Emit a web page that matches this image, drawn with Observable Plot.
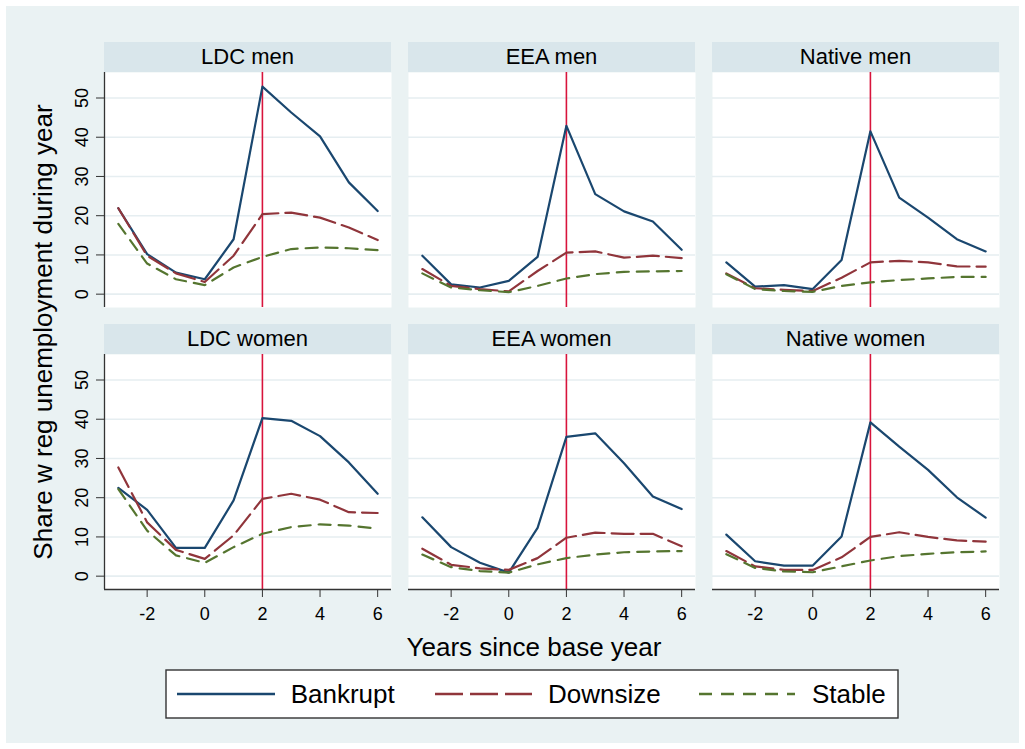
<!DOCTYPE html>
<html><head><meta charset="utf-8">
<script src="https://cdn.jsdelivr.net/npm/d3@7"></script>
<script src="https://cdn.jsdelivr.net/npm/@observablehq/plot@0.6"></script>
<style>
body{margin:0;background:#fff;font-family:"Liberation Sans",Arial,sans-serif;}
#root{position:relative;width:1025px;height:749px;overflow:hidden;background:#fff;}
#bg{position:absolute;left:6px;top:6px;width:1013px;height:737px;background:#EAF2F3;}
.strip{position:absolute;height:30px;width:287px;background:#D9E6EB;font-size:22px;line-height:30px;text-align:center;color:#000;white-space:nowrap;}
.panel{position:absolute;}
.title{position:absolute;font-size:26px;line-height:30px;height:30px;text-align:center;color:#000;white-space:nowrap;}
</style></head><body><div id="root"><div id="bg"></div></div>
<script>
// ---- data ----
const years = [-3, -2, -1, 0, 1, 2, 3, 4, 5, 6];
const panels = ["LDC men", "EEA men", "Native men", "LDC women", "EEA women", "Native women"];
const seriesNames = ["Bankrupt", "Downsize", "Stable"];
const bankrupt = [
  [21.9, 10.2, 5.5, 3.8, 14.0, 52.9, 46.3, 40.2, 28.5, 21.2],
  [9.8, 2.5, 1.7, 3.4, 9.5, 42.9, 25.5, 21.1, 18.5, 11.3],
  [8.1, 1.9, 2.3, 1.3, 8.7, 41.5, 24.6, 19.5, 14.0, 10.9],
  [22.5, 16.9, 7.2, 7.2, 19.3, 40.3, 39.6, 35.7, 29.0, 21.0],
  [15.0, 7.4, 3.4, 0.9, 12.3, 35.5, 36.4, 28.8, 20.3, 17.1],
  [10.6, 3.8, 2.7, 2.7, 10.1, 39.2, 33.0, 27.1, 20.1, 14.9]
];
const downsize = [
  [21.9, 9.8, 5.3, 3.1, 9.8, 20.4, 20.8, 19.5, 17.0, 13.8],
  [6.4, 2.1, 1.3, 0.7, 5.9, 10.6, 10.9, 9.3, 9.8, 9.2],
  [5.3, 1.5, 1.1, 0.8, 4.2, 8.1, 8.5, 8.1, 7.1, 7.0],
  [27.7, 13.7, 6.7, 4.4, 10.4, 19.7, 21.0, 19.5, 16.3, 16.1],
  [7.0, 2.9, 2.0, 1.6, 4.6, 9.8, 11.1, 10.8, 10.8, 7.6],
  [6.4, 2.5, 1.6, 1.6, 4.8, 10.0, 11.2, 10.0, 9.1, 8.8]
];
const stable = [
  [17.9, 7.8, 3.8, 2.3, 6.8, 9.5, 11.5, 11.9, 11.7, 11.2],
  [5.3, 1.7, 1.0, 0.5, 2.1, 4.0, 5.1, 5.7, 5.8, 5.9],
  [5.1, 1.3, 0.8, 0.6, 2.1, 3.0, 3.6, 4.0, 4.4, 4.4],
  [22.2, 11.6, 5.3, 3.4, 7.4, 10.8, 12.5, 13.2, 12.9, 12.1],
  [5.5, 2.3, 1.3, 0.9, 3.0, 4.6, 5.5, 6.1, 6.3, 6.4],
  [5.6, 2.1, 1.2, 1.0, 2.5, 4.0, 5.1, 5.7, 6.1, 6.3]
];
const yTicks = [0, 10, 20, 30, 40, 50];
const xTicks = [-2, 0, 2, 4, 6];
const baseYear = 2;
const xTitle = "Years since base year";
const yTitle = "Share w reg unemployment during year";

// ---- styles ----
const colors = {Bankrupt: "#1a476f", Downsize: "#90353b", Stable: "#55752f"};
const dashes = {Bankrupt: null, Downsize: "22,7", Stable: "12,8"};
const legendDashes = {Bankrupt: null, Downsize: "28,7", Stable: "13,9"};
const xDomain = [-3.48, 6.48];
const yDomain = [-3.4, 56.5];
const colX = [104, 408, 712];
const rowY = [72, 354];
const W = 287, H = 235;
const ml = 60, mr = 10, mt = 2, mb = 50;
const root = document.getElementById("root");
const series = {Bankrupt: bankrupt, Downsize: downsize, Stable: stable};

panels.forEach((name, i) => {
  const c = i % 3, r = Math.floor(i / 3);
  const strip = document.createElement("div");
  strip.className = "strip";
  strip.style.left = colX[c] + "px";
  strip.style.top = (rowY[r] - 30) + "px";
  strip.textContent = name;
  root.appendChild(strip);

  const rows = [];
  seriesNames.forEach(s => years.forEach((yr, j) => rows.push({panel: name, series: s, year: yr, value: series[s][i][j]})));

  const marks = [
    Plot.frame({fill: "white"}),
    Plot.ruleY(yTicks, {stroke: "#E6EEF1", strokeWidth: 1.6}),
    Plot.ruleX([baseYear], {stroke: "#d8143c", strokeWidth: 1.6})
  ];
  seriesNames.forEach(s => {
    marks.push(Plot.lineY(rows.filter(d => d.series === s), {
      x: "year", y: "value", stroke: colors[s], strokeWidth: 2.2,
      strokeDasharray: dashes[s] || undefined
    }));
  });
  if (c === 0) {
    marks.push(Plot.ruleX([xDomain[0]], {stroke: "#333", strokeWidth: 1.3}));
    marks.push(Plot.axisY(yTicks, {tickSize: 8, tickPadding: 8.5, tickRotate: -90, fontSize: 18, stroke: "#333", label: null, tickFormat: d => String(d)}));
  }
  if (r === 1) {
    marks.push(Plot.ruleY([yDomain[0]], {stroke: "#333", strokeWidth: 1.3}));
    marks.push(Plot.axisX(xTicks, {tickSize: 8, tickPadding: 10, fontSize: 18, stroke: "#333", label: null, tickFormat: d => String(d)}));
  }
  const svg = Plot.plot({
    width: W + ml + mr, height: H + mt + mb,
    marginLeft: ml, marginRight: mr, marginTop: mt, marginBottom: mb,
    x: {domain: xDomain, axis: null, label: null},
    y: {domain: yDomain, axis: null, label: null},
    style: {background: "transparent", overflow: "visible", fontFamily: "'Liberation Sans', Arial, sans-serif", color: "#000", maxWidth: "none"},
    marks
  });
  const holder = document.createElement("div");
  holder.className = "panel";
  holder.style.left = (colX[c] - ml) + "px";
  holder.style.top = (rowY[r] - mt) + "px";
  holder.appendChild(svg);
  root.appendChild(holder);
});

// axis titles
const yt = document.createElement("div");
yt.className = "title";
yt.style.width = "520px";
yt.style.left = (43 - 260) + "px";
yt.style.top = (331.5 - 15) + "px";
yt.style.transform = "rotate(-90deg)";
yt.textContent = yTitle;
root.appendChild(yt);

const xt = document.createElement("div");
xt.className = "title";
xt.style.width = "600px";
xt.style.left = (534 - 300) + "px";
xt.style.top = "632px";
xt.textContent = xTitle;
root.appendChild(xt);

// legend
const lg = document.createElementNS("http://www.w3.org/2000/svg", "svg");
lg.setAttribute("width", 734); lg.setAttribute("height", 50);
lg.style.position = "absolute"; lg.style.left = "165px"; lg.style.top = "669px";
const legendPos = [{x1: 12, x2: 110, tx: 125.7}, {x1: 270, x2: 367, tx: 383}, {x1: 534, x2: 630, tx: 647}];
let html = `<rect x="1" y="1" width="732" height="48" fill="white" stroke="#333" stroke-width="1.4"/>`;
seriesNames.forEach((s, k) => {
  const p = legendPos[k];
  html += `<line x1="${p.x1}" x2="${p.x2}" y1="25" y2="25" stroke="${colors[s]}" stroke-width="2.6" ${legendDashes[s] ? `stroke-dasharray="${legendDashes[s]}"` : ""}/>`;
  html += `<text x="${p.tx}" y="34.3" font-size="26" font-family="'Liberation Sans', Arial, sans-serif" fill="#000">${s}</text>`;
});
lg.innerHTML = html;
root.appendChild(lg);
</script>
</body></html>
